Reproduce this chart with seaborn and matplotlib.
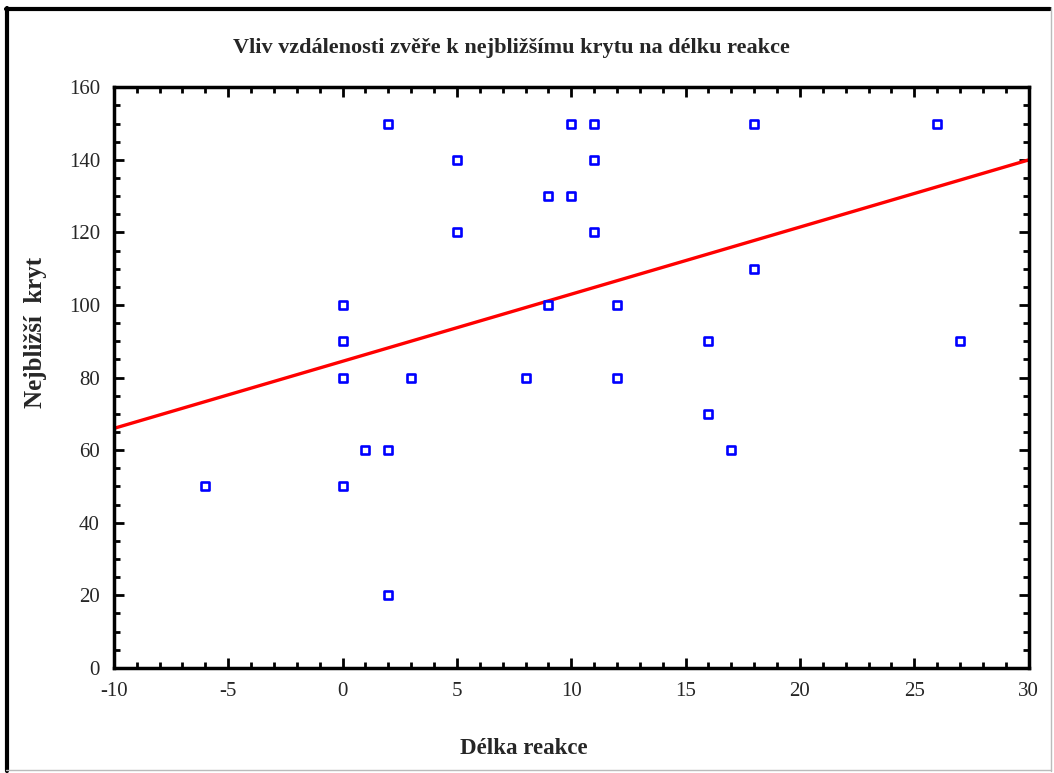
import matplotlib
matplotlib.use("Agg")
import matplotlib.pyplot as plt
from matplotlib.ticker import MultipleLocator
from matplotlib.lines import Line2D
import seaborn as sns
import pandas as pd

sns.set_theme(style="white")
plt.rcParams['font.family'] = ['Liberation Serif', 'DejaVu Serif']
plt.rcParams['axes.unicode_minus'] = False

delka_reakce = [2, 5, 5, 10, 11, 11, 9, 10, 11, 18, 26, 18, 0, 9, 12, 0, 16, 27,
                0, 3, 8, 12, 16, 17, 1, 2, -6, 0, 2]
nejblizsi_kryt = [150, 140, 120, 150, 150, 140, 130, 130, 120, 150, 150, 110, 100, 100, 100, 90, 90, 90,
                  80, 80, 80, 80, 70, 60, 60, 60, 50, 50, 20]

# fitted regression line (ends at the axis limits)
fit_x = [-10, 30]
fit_y = [66, 140]

title = "Vliv vzdálenosti zvěře k nejbližšímu krytu na délku reakce"
xlabel = "Délka reakce"
ylabel = "Nejbližší  kryt"

df = pd.DataFrame({"x": delka_reakce, "y": nejblizsi_kryt})
fit = pd.DataFrame({"x": fit_x, "y": fit_y})

fig = plt.figure(figsize=(10.54, 7.73), dpi=100)
ax = fig.add_axes([0.108, 0.136, 0.868, 0.751])

sns.lineplot(data=fit, x="x", y="y", ax=ax, color="#ff0000", lw=2.4, zorder=2)
sns.scatterplot(data=df, x="x", y="y", ax=ax, marker="s", s=32, facecolor="white",
                edgecolor="#0000ff", linewidth=1.9, zorder=3)

ax.set_xlim(-10, 30)
ax.set_ylim(0, 160)
ax.xaxis.set_major_locator(MultipleLocator(5))
ax.xaxis.set_minor_locator(MultipleLocator(1))
ax.yaxis.set_major_locator(MultipleLocator(20))
ax.yaxis.set_minor_locator(MultipleLocator(5))
ax.tick_params(which="both", direction="in", top=True, right=True, bottom=True, left=True,
               color="black", width=2)
ax.tick_params(which="major", length=7, labelsize=15, pad=10)
ax.tick_params(which="minor", length=4)
for s in ax.spines.values():
    s.set_color("black")
    s.set_linewidth(2.5)

ax.set_xlabel(xlabel, fontsize=16.5, fontweight="bold")
ax.set_ylabel(ylabel, fontsize=18, fontweight="bold")
ax.xaxis.set_label_coords(0.448, -0.12)
ax.yaxis.set_label_coords(-0.073, 0.578)
fig.text(0.485, 0.938, title, ha="center", va="center", fontsize=16, fontweight="bold")

# figure frame
fig.add_artist(Line2D([0.006, 0.996], [0.989, 0.989], transform=fig.transFigure, color="black", lw=3))
fig.add_artist(Line2D([0.007, 0.007], [0.003, 0.99], transform=fig.transFigure, color="black", lw=3))
fig.add_artist(Line2D([0.997, 0.997], [0.003, 0.99], transform=fig.transFigure, color="#bbbbbb", lw=1))
fig.add_artist(Line2D([0.006, 0.997], [0.004, 0.004], transform=fig.transFigure, color="#bbbbbb", lw=1))

fig.savefig("out.png", dpi=100)
